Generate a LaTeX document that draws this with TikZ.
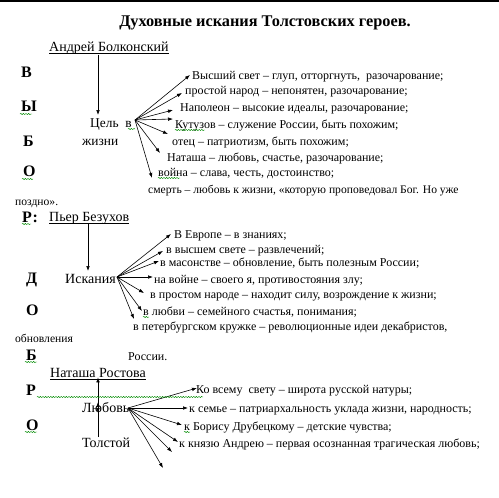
\documentclass[tikz,border=0pt]{standalone}
\usepackage{fontspec}
\setmainfont{Liberation Serif}
\usetikzlibrary{arrows.meta,decorations.pathmorphing}
\begin{document}
\begin{tikzpicture}[x=1pt,y=-1pt,
  txt/.style={anchor=base west, inner sep=0pt, font=\fontsize{12}{14}\selectfont},
  lab/.style={anchor=base west, inner sep=0pt, font=\fontsize{14}{16}\selectfont},
  big/.style={anchor=base west, inner sep=0pt, font=\fontsize{16}{18}\selectfont\bfseries},
  arr/.style={-{Latex[length=5pt,width=3.6pt]}, line width=0.6pt},
  wav/.style={decorate, decoration={snake, amplitude=0.6pt, segment length=2.6pt}, draw=green!55!black, line width=0.45pt},
  uline/.style={line width=0.6pt}]
\useasboundingbox (0,0) rectangle (499,498);
\fill[white] (0,0) rectangle (499,498);
\draw[line width=1.2pt] (0,1) -- (499,1);

% title
\node[anchor=base, inner sep=0pt, font=\fontsize{16.3}{19}\selectfont\bfseries] (title) at (265,26) {Духовные искания Толстовских героев.};

% left letters
\node[big] (L1) at (21,77) {В};
\node[big] (L2) at (21,111) {Ы};
\node[big] (L3) at (23,146) {Б};
\node[big] (L4) at (23,176) {О};
\node[big] (L5) at (22,222) {Р:};
\node[big] (L6) at (26,283) {Д};
\node[big] (L7) at (26,315) {О};
\node[big] (L8) at (26,360) {Б};
\node[big] (L9) at (26,395) {Р};
\node[big] (L10) at (26,430) {О};

% ---------- Andrey
\node[lab] (andrey) at (49,51.5) {Андрей Болконский};
\draw[uline] ([yshift=-2pt]andrey.base west) -- ([yshift=-2pt]andrey.base east);
\node[lab, font=\fontsize{13.4}{16}\selectfont] (goal1) at (90,127) {Цель\ \ в};
\node[lab, font=\fontsize{13.4}{16}\selectfont] (goal2) at (82,145) {жизни};
\node[txt] (a1) at (192,79) {Высший свет – глуп, отторгнуть,\ \ разочарование;};
\node[txt] (a2) at (185,94) {простой народ – непонятен, разочарование;};
\node[txt] (a3) at (180,111) {Наполеон – высокие идеалы, разочарование;};
\node[txt] (a4) at (175,128) {Кутузов – служение России, быть похожим;};
\node[txt] (a5) at (172,145) {отец – патриотизм, быть похожим;};
\node[txt] (a6) at (167,161) {Наташа – любовь, счастье, разочарование;};
\node[txt] (a7) at (158,176) {война – слава, честь, достоинство;};
\node[txt, font=\fontsize{11.6}{14}\selectfont] (a8) at (148,193) {смерть – любовь к жизни, «которую проповедовал Бог. Но уже};
\node[txt, font=\fontsize{11.6}{14}\selectfont] (a9) at (15,205) {поздно».};

\coordinate (aBot) at (98,115);
\coordinate (aO) at (135,120);
\coordinate (aT1) at (190,75);
\coordinate (aT2) at (182,93);
\coordinate (aT3) at (173,110);
\coordinate (aT4) at (173,119);
\coordinate (aT5) at (168,134);
\coordinate (aT6) at (160,153);
\coordinate (aT7) at (152,178);
\draw[arr] (aBot |- andrey.south) -- (aBot);
\foreach \t in {aT1,aT2,aT3,aT4,aT5,aT6,aT7} \draw[arr] (aO) -- (\t);

% ---------- Pierre
\node[lab] (pierre) at (49,221) {Пьер Безухов};
\draw[uline] ([yshift=-2pt]pierre.base west) -- ([yshift=-2pt]pierre.base east);
\node[lab] (isk) at (65,283) {Искания};
\node[txt] (p1) at (174,238) {В Европе – в знаниях;};
\node[txt] (p2) at (166,253) {в высшем свете – развлечений;};
\node[txt] (p3) at (160,266) {в масонстве – обновление, быть полезным России;};
\node[txt] (p4) at (154,283) {на войне – своего я, противостояния злу;};
\node[txt] (p5) at (150,298) {в простом народе – находит силу, возрождение к жизни;};
\node[txt] (p6) at (143,315) {в любви – семейного счастья, понимания;};
\node[txt] (p7) at (133,330) {в петербургском кружке – революционные идеи декабристов,};
\node[txt, font=\fontsize{11.6}{14}\selectfont] (p8) at (15,342) {обновления};
\node[txt] (p9) at (128,360) {России.};

\coordinate (pBot) at (88,271);
\coordinate (pO) at (117,277);
\coordinate (pT1) at (171,234);
\coordinate (pT2) at (163,251);
\coordinate (pT3) at (159,261);
\coordinate (pT4) at (153,277);
\coordinate (pT5) at (144,293);
\coordinate (pT6) at (142,311);
\coordinate (pT7) at (134,319);
\draw[arr] (pBot |- pierre.south) -- (pBot);
\foreach \t in {pT1,pT2,pT3,pT4,pT5,pT6,pT7} \draw[arr] (pO) -- (\t);

% ---------- Natasha
\node[lab] (natasha) at (50,377) {Наташа Ростова};
\draw[uline] ([yshift=-2pt]natasha.base west) -- ([yshift=-2pt]natasha.base east);
\node[lab] (love) at (82,412) {Любовь};
\node[lab] (tolst) at (82,447) {Толстой};
\node[txt] (n1) at (196,393) {Ко всему\ \ свету – широта русской натуры;};
\node[txt] (n2) at (189,412) {к семье – патриархальность уклада жизни, народность;};
\node[txt] (n3) at (184,430) {к Борису Друбецкому – детские чувства;};
\node[txt] (n4) at (179,447) {к князю Андрею – первая осознанная трагическая любовь;};

\coordinate (vX) at (98,0);
\coordinate (vMid) at (98,402);
\coordinate (vMid2) at (98,413);
\coordinate (nO) at (128,408);
\coordinate (nT1) at (197,388);
\coordinate (nT2) at (188,408);
\coordinate (nT3) at (182,425);
\coordinate (nT4) at (178,442);
\coordinate (nT5) at (172,452);
\coordinate (nT6) at (163,468);
\draw[arr] (vX |- tolst.north) -- (vMid);
\draw[arr] (vMid) -- (vX |- natasha.south);
\draw[arr] (vMid) -- (vMid2);
\foreach \t in {nT1,nT2,nT3,nT4,nT5,nT6} \draw[arr] (nO) -- (\t);

% spell-check wavy marks
\draw[wav] (20,114) -- (32,114);
\draw[wav] (128,129) -- (135,129);
\draw[wav] (175,130) -- (205,130);
\draw[wav] (158,178) -- (180,178);
\draw[wav] (22,179) -- (33,179);
\draw[wav] (22,224) -- (31,224);
\draw[wav] (143,317) -- (149,317);
\draw[wav] (25,362) -- (37,362);
\draw[wav] (37,397) -- (203,397);
\draw[wav] (25,432) -- (37,432);
\draw[wav] (184,432) -- (190,432);
\end{tikzpicture}
\end{document}
